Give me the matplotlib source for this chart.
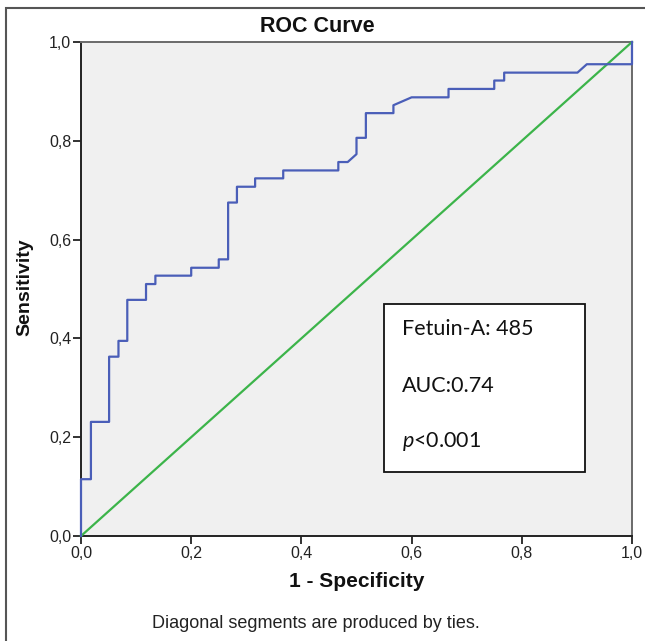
import matplotlib
matplotlib.use("Agg")
import matplotlib.pyplot as plt
from matplotlib.patches import Rectangle

# ROC curve vertices (1 - specificity, sensitivity)
fpr = [0.0, 0.0, 0.018, 0.018, 0.051, 0.051, 0.068, 0.068, 0.084, 0.084,
       0.118, 0.118, 0.135, 0.135, 0.200, 0.200, 0.250, 0.250, 0.267, 0.267,
       0.283, 0.283, 0.316, 0.316, 0.367, 0.367, 0.467, 0.467, 0.484, 0.500,
       0.500, 0.517, 0.517, 0.567, 0.567, 0.600, 0.667, 0.667, 0.750, 0.750,
       0.768, 0.768, 0.901, 0.918, 1.0, 1.0]
tpr = [0.0, 0.115, 0.115, 0.231, 0.231, 0.363, 0.363, 0.395, 0.395, 0.478,
       0.478, 0.510, 0.510, 0.527, 0.527, 0.543, 0.543, 0.560, 0.560, 0.675,
       0.675, 0.707, 0.707, 0.724, 0.724, 0.740, 0.740, 0.757, 0.757, 0.773,
       0.806, 0.806, 0.856, 0.856, 0.872, 0.888, 0.888, 0.905, 0.905, 0.922,
       0.922, 0.938, 0.938, 0.955, 0.955, 1.0]
ref_line = [0.0, 1.0]
ticks = [0.0, 0.2, 0.4, 0.6, 0.8, 1.0]
tick_labels = ["0,0", "0,2", "0,4", "0,6", "0,8", "1,0"]
box_lines = ["Fetuin-A: 485", "AUC:0.74", "$\\it{p}$<0.001"]

plt.rcParams['font.family'] = ['Liberation Sans', 'DejaVu Sans']
plt.rcParams['mathtext.fontset'] = 'custom'
plt.rcParams['mathtext.it'] = 'Lato:italic'

fig = plt.figure(figsize=(6.45, 6.41), dpi=100)
ax = fig.add_axes([81/645, 1 - 536/641, 551/645, 494/641])
ax.set_facecolor('#f0f0f0')

# outer frame (cut at right/bottom like the reference)
fig.patches.append(Rectangle((6/645, -0.1), 1.2, 1 - 8/641 + 0.1,
                             transform=fig.transFigure, fill=False,
                             edgecolor='#555555', linewidth=1.5))

ax.plot(ref_line, ref_line, color='#3cb44a', linewidth=1.6, clip_on=False, zorder=3)
ax.plot(fpr, tpr, color='#4a5eb8', linewidth=1.6, clip_on=False, zorder=4)

ax.set_xlim(0, 1)
ax.set_ylim(0, 1)
ax.set_xticks(ticks)
ax.set_xticklabels(tick_labels)
ax.set_yticks(ticks)
ax.set_yticklabels(tick_labels)
ax.tick_params(direction='out', length=6, width=1.3, labelsize=11.5,
               colors='#222222', pad=1)

for s in ['left', 'bottom']:
    ax.spines[s].set_color('#222222')
    ax.spines[s].set_linewidth(1.4)
for s in ['top', 'right']:
    ax.spines[s].set_color('#6a6a6a')
    ax.spines[s].set_linewidth(1.4)

fig.text(317/645, 1 - 27/641, "ROC Curve", fontsize=15.5, fontweight='bold',
         ha='center', va='center', color='#111111')
ax.set_xlabel("1 - Specificity", fontsize=15, fontweight='bold', labelpad=8,
              color='#111111')
fig.text(25/645, 1 - 287/641, "Sensitivity", fontsize=14, fontweight='bold',
         rotation=90, ha='center', va='center', color='#111111')

# annotation box
ax.add_patch(Rectangle((0.550, 0.129), 0.365, 0.341, facecolor='white',
                       edgecolor='#111111', linewidth=1.3, zorder=5))
for txt, yy in zip(box_lines, [0.419, 0.304, 0.191]):
    ax.text(0.583, yy, txt, fontsize=15.5, va='center', ha='left', zorder=6,
            family=['Lato', 'DejaVu Sans'], color='#111111')

fig.text(316/645, 1 - 624/641, "Diagonal segments are produced by ties.",
         ha='center', va='center', fontsize=13, color='#222222')

fig.savefig('out.png', dpi=100)
